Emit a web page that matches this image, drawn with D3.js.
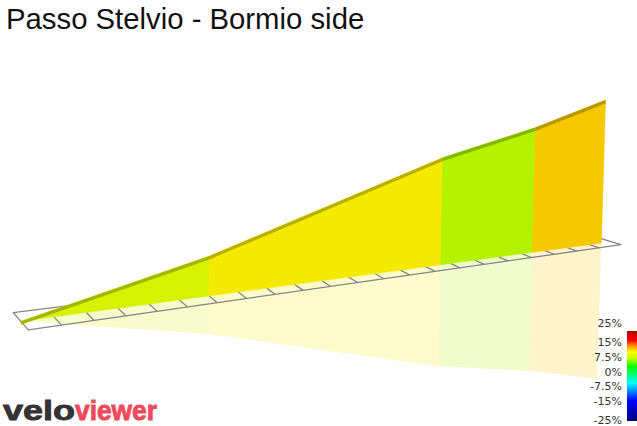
<!DOCTYPE html>
<html>
<head>
<meta charset="utf-8">
<script src="https://cdn.jsdelivr.net/npm/d3@7/dist/d3.min.js"></script>
<style>
  html, body { margin: 0; padding: 0; background: #ffffff; }
  svg { display: block; }
</style>
</head>
<body>
<script>
// ---------------- data ----------------
const titleText = "Passo Stelvio - Bormio side";
const distKm = [0, 6.0, 14.6, 18.45, 21.55];         // profile break points (km)
const elevM  = [1225, 1593, 2300, 2525, 2758];        // elevation at break points (m)
const segGrade = [8.4, 10.3, 6.6, 11.3];              // gradient used for colouring each segment (%)
const ribbonKm = 22;                                  // length of the distance ribbon
const kmTicks = [1,2,3,4,5,6,7,8,9,10,11,12,13,14,15,16,17,18,19,20,21];
const legendValues = [25, 15, 7.5, 0, -7.5, -15, -25];
const legendLabels = ["25%", "15%", "7.5%", "0%", "-7.5%", "-15%", "-25%"];
const logoParts = ["velo", "viewer"];

// ---------------- setup ----------------
const W = 637, H = 426;
const svg = d3.select("body").append("svg").attr("width", W).attr("height", H);

// colour scale (grade -> colour)
const gradeColor = d3.scaleLinear()
  .domain([-25, -15, -6, 2.5, 6.7, 10, 13.4, 16, 21, 25])
  .range(["#00007f", "#0000ff", "#00ffff", "#00ff00", "#c0ff00", "#ffff00", "#ff8c00", "#ff0000", "#b00000", "#800000"])
  .interpolate(d3.interpolateRgb)
  .clamp(true);
function faceColor(g) {
  const c = d3.rgb(gradeColor(g));
  return d3.rgb(c.r * 0.96, c.g * 0.95, c.b * 0.95);
}

// pseudo-3D projection built on d3 scales
const persp = 0.8;
const tScale = d3.scaleLinear().domain([0, ribbonKm]).range([0, 1]);
const U = t => t / (t + (1 - t) * persp);
const Z = t => t + (1 - t) * persp;
const midX = d3.scaleLinear().domain([0, 1]).range([20.8, 611]);
const midY = d3.scaleLinear().domain([0, 1]).range([321.3, 241.7]);
const halfX = d3.scaleLinear().domain([0, 1]).range([7.5, 10]);
const halfY = d3.scaleLinear().domain([0, 1]).range([8.6, 3]);
const hScale = d3.scaleLinear().domain([elevM[0], elevM[elevM.length - 1]]).range([0, 142.4]);

function ground(d, w) {
  const u = U(tScale(d));
  return [midX(u) + w * halfX(u), midY(u) + w * halfY(u)];
}
function lift(d, elev, dir) {
  const t = tScale(d), u = U(t);
  const h = hScale(elev) / Z(t);
  const lean = 0.03 * u;
  const g = ground(d, 0);
  if (dir > 0) return [g[0] + lean * h, g[1] - h];
  return [g[0] - lean * h * 0.95, g[1] + h * 0.95];
}
const line = d3.line();
const segs = d3.range(distKm.length - 1);

// ---------------- reflection ----------------
const gRefl = svg.append("g");
gRefl.selectAll("path").data(segs).join("path")
  .attr("d", i => line([
    ground(distKm[i], 0), ground(distKm[i + 1], 0),
    lift(distKm[i + 1], elevM[i + 1], -1), lift(distKm[i], elevM[i], -1)
  ]) + "Z")
  .attr("fill", i => faceColor(segGrade[i]))
  .attr("fill-opacity", 0.2);

// ---------------- ribbon (distance axis) ----------------
const gRib = svg.append("g").attr("stroke", "#858585").attr("stroke-width", 1.3).attr("fill", "none");
gRib.append("path")
  .attr("d", line([ground(0, -1), ground(ribbonKm, -1), ground(ribbonKm, 1), ground(0, 1)]) + "Z")
  .attr("stroke-linejoin", "round");
gRib.selectAll("line.tick").data(kmTicks).join("line")
  .attr("class", "tick")
  .attr("x1", k => ground(k, 0)[0]).attr("y1", k => ground(k, 0)[1])
  .attr("x2", k => ground(k, 1)[0]).attr("y2", k => ground(k, 1)[1]);

// ---------------- wall ----------------
const gWall = svg.append("g");
gWall.selectAll("path.face").data(segs).join("path")
  .attr("class", "face")
  .attr("d", i => line([
    ground(distKm[i], 0), ground(distKm[i + 1], 0),
    lift(distKm[i + 1], elevM[i + 1], 1), lift(distKm[i], elevM[i], 1)
  ]) + "Z")
  .attr("fill", i => faceColor(segGrade[i]))
  .attr("stroke", i => faceColor(segGrade[i]))
  .attr("stroke-width", 0.6);

// top edge band
gWall.selectAll("path.band").data(segs).join("path")
  .attr("class", "band")
  .attr("d", i => {
    const a = lift(distKm[i], elevM[i], 1), b = lift(distKm[i + 1], elevM[i + 1], 1);
    return line([a, b, [b[0], b[1] + 3.5], [a[0], a[1] + 3.5]]) + "Z";
  })
  .attr("fill", i => d3.color(faceColor(segGrade[i])).darker(0.8));

// ---------------- title ----------------
svg.append("text")
  .attr("x", 6).attr("y", 28.5)
  .attr("font-family", "'Liberation Sans', Arial, sans-serif")
  .attr("font-size", 29.3)
  .attr("fill", "#111")
  .text(titleText);

// ---------------- legend ----------------
const legendY = d3.scaleLinear().domain([25, -25]).range([323, 420]);
const barTop = 331, barBot = 421;
const defs = svg.append("defs");
const grad = defs.append("linearGradient").attr("id", "legGrad")
  .attr("x1", 0).attr("y1", 0).attr("x2", 0).attr("y2", 1);
const stopVals = gradeColor.domain();
grad.selectAll("stop").data(stopVals.slice().reverse()).join("stop")
  .attr("offset", v => Math.max(0, Math.min(1, (legendY(v) - barTop) / (barBot - barTop))))
  .attr("stop-color", v => gradeColor(v));
svg.append("rect")
  .attr("x", 627).attr("y", barTop).attr("width", 10).attr("height", barBot - barTop)
  .attr("fill", "url(#legGrad)");
svg.append("g").selectAll("text").data(legendValues).join("text")
  .attr("x", 622).attr("y", v => legendY(v) + 4)
  .attr("text-anchor", "end")
  .attr("font-family", "'DejaVu Sans', Verdana, sans-serif")
  .attr("font-size", 11)
  .attr("fill", "#333")
  .text((v, i) => legendLabels[i]);

// ---------------- logo ----------------
const logoX = [3, 75], logoW = [72, 82], logoCol = ["#333333", "#ef4a5c"];
svg.append("g").selectAll("text").data(logoParts).join("text")
  .attr("x", (d, i) => logoX[i]).attr("y", 419.5)
  .attr("font-family", "'Liberation Sans', Arial, sans-serif")
  .attr("font-weight", "bold")
  .attr("font-size", 28)
  .attr("textLength", (d, i) => logoW[i])
  .attr("lengthAdjust", "spacingAndGlyphs")
  .attr("fill", (d, i) => logoCol[i])
  .attr("stroke", (d, i) => logoCol[i])
  .attr("stroke-width", 0.9)
  .text(d => d);
</script>
</body>
</html>
